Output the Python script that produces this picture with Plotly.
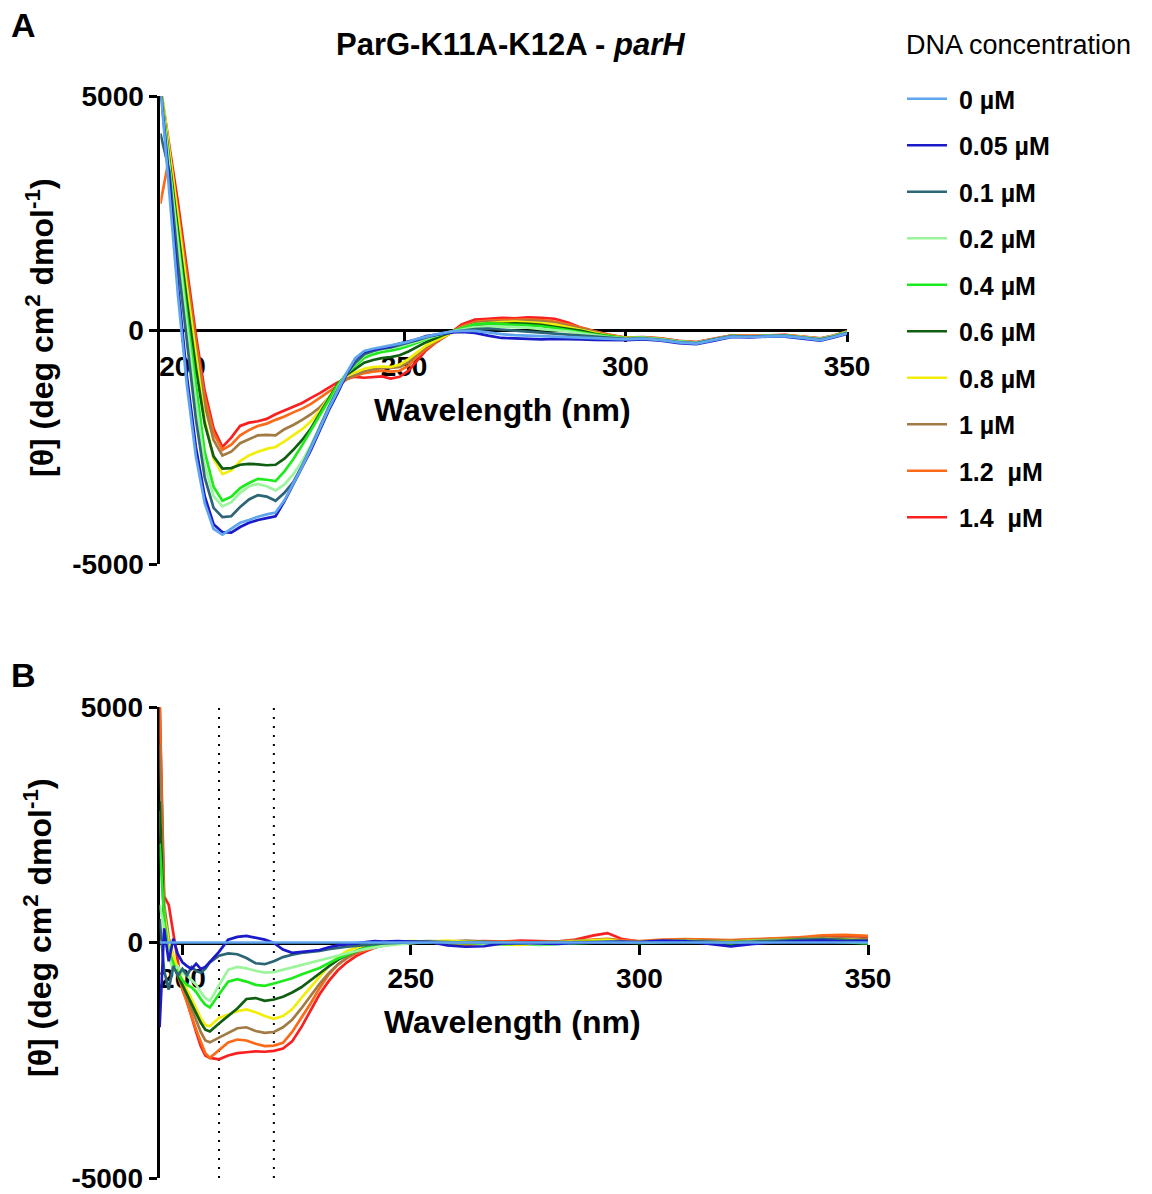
import plotly.graph_objects as go

# ---------------- data ----------------
CONC_LABELS = ["0 µM", "0.05 µM", "0.1 µM", "0.2 µM", "0.4 µM", "0.6 µM",
               "0.8 µM", "1 µM", "1.2\u00a0 µM", "1.4\u00a0 µM"]
COLORS = ["#5fa6ef", "#1a1ac8", "#2c6576", "#9cf49c", "#1eea1e", "#0f5e12",
          "#f2ee0a", "#a27a44", "#fb6a18", "#f82020"]

# Panel A: raw CD spectra
WL_A = [195, 197, 199, 201, 203, 205, 207, 209, 211, 213, 215, 217, 219, 221, 223,
        225, 227, 229, 231, 233, 235, 237, 239,
        241, 243, 245, 247, 249, 251, 253, 255, 257, 259, 261, 263,
        266, 269, 272, 275, 278, 281, 284, 287, 290, 293, 296,
        300, 304, 308, 312, 316, 320, 324, 328, 332, 336, 340, 344, 347, 350]

A_0 = [5200, 3000, 700, -1200, -2700, -3700, -4250, -4370, -4250, -4120, -4060, -3990, -3940, -3900, -3640,
       -3280, -2920, -2520, -2080, -1680, -1300, -920, -600,
       -450, -400, -370, -330, -290, -250, -190, -140, -100, -60, -30, -20,
       -20, -50, -90, -110, -120, -130, -140, -150, -160, -170, -180,
       -200, -185, -215, -265, -290, -210, -140, -150, -135, -130, -170, -215, -150, -70]
A_005 = [5200, 3200, 900, -1000, -2500, -3550, -4150, -4320, -4330, -4210, -4120, -4060, -4020, -3980, -3660,
         -3300, -2950, -2560, -2140, -1720, -1350, -950, -620,
         -470, -420, -380, -350, -290, -250, -200, -130, -100, -70, -50, -40,
         -60, -120, -170, -180, -190, -200, -190, -190, -200, -210, -215,
         -215, -200, -230, -280, -300, -230, -150, -160, -140, -140, -180, -225, -160, -80]
A_01 = [4200, 3400, 1400, -300, -1900, -3150, -3800, -4000, -3980, -3780, -3620, -3530, -3560, -3650, -3480,
        -3250, -2900, -2500, -2080, -1650, -1280, -940, -700,
        -520, -450, -400, -370, -320, -280, -220, -160, -110, -70, -40, -10,
        20, 30, 10, -10, -40, -60, -80, -100, -120, -140, -160,
        -190, -180, -210, -260, -280, -200, -130, -140, -130, -120, -160, -200, -140, -60]
A_02 = [5200, 3500, 1700, 100, -1500, -2900, -3550, -3770, -3680, -3480, -3340, -3290, -3340, -3430, -3300,
        -3080, -2800, -2460, -2060, -1640, -1250, -930, -720,
        -540, -460, -420, -390, -350, -300, -240, -180, -120, -70, -30, 10,
        60, 80, 70, 60, 50, 20, 0, -30, -70, -110, -150,
        -180, -170, -200, -250, -270, -200, -130, -140, -120, -120, -150, -190, -130, -50]
A_04 = [5200, 3500, 1900, 300, -1200, -2600, -3350, -3650, -3560, -3380, -3270, -3180, -3200, -3230, -3020,
        -2760, -2460, -2140, -1800, -1480, -1180, -930, -760,
        -600, -520, -470, -440, -400, -340, -270, -200, -130, -80, -20, 40,
        120, 140, 120, 110, 100, 80, 40, 0, -50, -100, -140,
        -180, -170, -200, -250, -280, -210, -130, -140, -130, -120, -160, -200, -130, -40]
A_06 = [5200, 3600, 2100, 600, -800, -2000, -2700, -2960, -2950, -2880, -2860, -2870, -2890, -2880, -2750,
        -2560, -2350, -2100, -1800, -1470, -1160, -960, -830,
        -700, -640, -600, -580, -540, -460, -360, -260, -180, -100, -40, 30,
        100, 130, 130, 140, 130, 110, 70, 30, -20, -80, -130,
        -180, -170, -200, -250, -280, -200, -130, -140, -125, -120, -160, -200, -140, -50]
A_08 = [5300, 3900, 2400, 900, -500, -1900, -2750, -3080, -3000, -2800, -2680, -2600, -2540, -2500, -2380,
        -2250, -2120, -1950, -1720, -1450, -1170, -980, -900,
        -830, -790, -780, -790, -740, -620, -470, -330, -230, -140, -50, 40,
        120, 150, 170, 180, 170, 150, 120, 60, 10, -60, -120,
        -170, -165, -195, -245, -275, -200, -125, -135, -120, -115, -150, -195, -135, -45]
A_1 = [5200, 3800, 2400, 1000, -350, -1600, -2350, -2680, -2600, -2420, -2330, -2250, -2240, -2250, -2120,
       -2030, -1920, -1800, -1650, -1450, -1220, -1040, -960,
       -880, -840, -810, -810, -790, -690, -510, -360, -250, -140, -40, 60,
       150, 180, 190, 200, 200, 190, 150, 90, 30, -40, -110,
       -170, -160, -190, -240, -270, -195, -125, -135, -120, -115, -150, -190, -130, -40]
A_12 = [2700, 3700, 2500, 1100, -250, -1450, -2200, -2560, -2450, -2250, -2140, -2050, -2000, -1920, -1850,
        -1760, -1680, -1580, -1450, -1310, -1180, -1060, -980,
        -920, -890, -870, -890, -870, -760, -560, -400, -270, -150, -40, 80,
        170, 200, 210, 220, 230, 210, 180, 120, 40, -30, -100,
        -165, -155, -185, -235, -265, -190, -120, -130, -115, -110, -145, -185, -125, -35]
A_14 = [5200, 4000, 2700, 1300, -100, -1300, -2100, -2500, -2300, -2050, -1980, -1950, -1900, -1800, -1720,
        -1630, -1560, -1450, -1350, -1230, -1120, -1040, -1000,
        -1020, -1000, -990, -1040, -1000, -870, -650, -430, -280, -150, -30, 120,
        220, 240, 260, 250, 270, 260, 240, 160, 50, -30, -100,
        -160, -150, -180, -230, -260, -185, -115, -125, -110, -105, -140, -180, -120, -30]

# Panel B: spectra after subtraction of the 0 µM spectrum
WL_B = [195, 196, 197, 198, 199, 200, 201, 202, 203, 204, 205, 206,
        208, 210, 212, 214, 216, 218, 220, 222, 224, 226, 228, 230, 232, 234, 236, 238, 240, 242, 244,
        247, 250, 254, 258, 262, 266, 270, 274, 278, 282, 286, 290, 293, 296,
        300, 305, 310, 315, 320, 325, 330, 335, 340, 345, 350]

B_0 = [0, 0, 0, 0, 0, 0, 0, 0, 0, 0, 0, 0,
       0, 0, 0, 0, 0, 0, 0, 0, 0, 0, 0, 0, 0, 0, 0, 0, 0, 0, 0,
       0, 0, 0, 0, 0, 0, 0, 0, 0, 0, 0, 0, 0, 0,
       0, 0, 0, 0, 0, 0, 0, 0, 0, 0, 0]
B_005 = [-1800, 300, -400, 80, -250, -420, -500, -560, -450, -560, -520, -420,
         -200, 60, 120, 140, 100, 60, -10, -150, -220, -200, -180, -160, -100, -60, -40, -20, 0, 30, 20,
         30, 20, 10, -60, -90, -80, -20, -10, -20, -30, -10, 0, 10, 20,
         10, 40, 30, -20, -80, -30, 10, 30, 40, 20, 30]
B_01 = [500, -600, -1000, -500, -700, -560, -700, -520, -600, -640, -560, -420,
        -280, -230, -250, -330, -440, -460, -400, -310, -260, -220, -200, -180, -140, -110, -90, -70, -50, -30, -20,
        -10, 10, 20, 10, 0, 10, -20, -10, 0, -20, 10, 0, 10, 0,
        10, 20, 30, 20, 0, 20, 40, 60, 70, 50, 40]
B_02 = [800, 300, -300, -600, -500, -650, -700, -800, -900, -1050, -1180, -1240,
        -900, -580, -520, -550, -600, -640, -630, -580, -520, -470, -430, -380, -320, -280, -230, -180, -140, -100, -70,
        -40, -10, 20, 0, 10, -20, -30, -10, -40, -20, 0, 10, 20, 10,
        0, 20, 30, 10, 0, 30, 40, 50, 60, 40, 20]
B_04 = [2100, 500, -200, -450, -640, -800, -900, -950, -1050, -1200, -1320, -1380,
        -1100, -830, -780, -830, -900, -920, -870, -820, -760, -680, -610, -540, -440, -340, -260, -180, -120, -70, -40,
        -10, 10, 0, -20, -10, -30, -40, -20, -50, -30, -10, 0, 10, 0,
        -10, 10, 20, 0, -20, 20, 30, 40, 30, 10, -20]
B_06 = [3000, 400, -300, -500, -700, -900, -1100, -1300, -1500, -1700, -1850, -1890,
        -1720, -1550, -1400, -1200, -1180, -1240, -1210, -1150, -1060, -950, -800, -660, -510, -370, -260, -180, -110, -60, -30,
        -10, 20, 10, 0, 10, 0, -10, 0, -10, 0, 10, 20, 20, 10,
        0, 20, 30, 10, 10, 30, 50, 60, 70, 50, 30]
B_08 = [2800, 600, 0, -300, -550, -800, -1000, -1200, -1400, -1600, -1750, -1780,
        -1600, -1530, -1460, -1420, -1480, -1560, -1620, -1560, -1420, -1180, -950, -720, -500, -310, -180, -110, -60, -30, 0,
        20, 30, 20, 40, 20, 0, -40, -50, -20, 0, 20, 40, 60, 20,
        10, 30, 40, 20, 20, 40, 50, 60, 80, 60, 40]
B_1 = [4200, 800, 100, -300, -600, -900, -1150, -1400, -1650, -1900, -2080, -2120,
       -2020, -1920, -1820, -1800, -1880, -1920, -1900, -1800, -1640, -1400, -1130, -880, -650, -470, -320, -210, -130, -70, -30,
       0, 20, 30, 20, 40, 20, 0, -10, 10, 20, 30, 50, 70, 30,
       20, 40, 50, 40, 30, 50, 70, 80, 100, 90, 70]
B_12 = [5200, 300, -190, -400, -700, -1000, -1300, -1600, -1850, -2100, -2350, -2450,
        -2280, -2120, -2060, -2080, -2150, -2200, -2190, -2130, -1900, -1600, -1300, -970, -680, -470, -330, -230, -160, -100, -60,
        -20, 0, 10, -40, -60, 0, 20, 10, 0, 20, 40, 60, 80, 50,
        30, 60, 70, 60, 50, 70, 90, 110, 150, 160, 140]
B_14 = [5200, 980, 800, 230, -400, -1000, -1250, -1600, -1900, -2200, -2400, -2450,
        -2480, -2400, -2350, -2330, -2310, -2320, -2300, -2250, -2100, -1800, -1460, -1100, -820, -590, -420, -290, -190, -110, -60,
        -20, 10, 20, 0, 10, 30, 20, 40, 30, 20, 60, 150, 200, 80,
        20, 40, 60, 50, 40, 60, 80, 100, 130, 140, 120]

SERIES_A = [A_0, A_005, A_01, A_02, A_04, A_06, A_08, A_1, A_12, A_14]
SERIES_B = [B_0, B_005, B_01, B_02, B_04, B_06, B_08, B_1, B_12, B_14]

Y_TICKS = [-5000, 0, 5000]
Y_TICKTEXT = ["-5000", "0", "5000"]
X_TICKS = [200, 250, 300, 350]
MARKER_LINES_B = [208, 220]

# ---------------- figure ----------------
W, H = 1152, 1194
FONT = "Liberation Sans, Arial, sans-serif"


def px_x(p):
    return p / W


def px_y(p):
    return 1 - p / H


fig = go.Figure()

# draw highest concentration first so the low-concentration curves sit on top
for i in reversed(range(len(CONC_LABELS))):
    fig.add_trace(go.Scatter(
        x=WL_A, y=SERIES_A[i], mode="lines", name="\u00a0" + CONC_LABELS[i],
        line=dict(color=COLORS[i], width=2.7),
        legendgroup=f"g{i}", legendrank=i + 1, showlegend=True,
        xaxis="x", yaxis="y"))
for i in reversed(range(len(CONC_LABELS))):
    fig.add_trace(go.Scatter(
        x=WL_B, y=SERIES_B[i], mode="lines", name=CONC_LABELS[i],
        line=dict(color=COLORS[i], width=2.7),
        legendgroup=f"g{i}", showlegend=False,
        xaxis="x2", yaxis="y2"))

tickfont = dict(family=FONT, size=28, color="black", weight="bold")

xa_common = dict(
    range=[195, 350], tickvals=X_TICKS, ticks="outside", ticklen=10, tickwidth=3,
    tickcolor="black", showline=True, linewidth=3, linecolor="black",
    showgrid=False, zeroline=False, tickfont=tickfont, anchor="free",
    layer="below traces", ticklabelstandoff=0)
ya_common = dict(
    range=[-5000, 5000], tickvals=Y_TICKS, ticktext=Y_TICKTEXT, ticks="outside",
    ticklen=8, tickwidth=3, tickcolor="black", showline=True, linewidth=3,
    linecolor="black", showgrid=False, zeroline=False, tickfont=tickfont,
    layer="below traces", ticklabelstandoff=0)

A_x0, A_x1, A_y0, A_y1 = 160.4, 847, 96, 564
B_x0, B_x1, B_y0, B_y1 = 159.6, 868, 707, 1178

fig.update_layout(
    xaxis=dict(domain=[px_x(A_x0), px_x(A_x1)], position=(px_y(A_y0) + px_y(A_y1)) / 2, **xa_common),
    yaxis=dict(domain=[px_y(A_y1), px_y(A_y0)], anchor="x", **ya_common),
    xaxis2=dict(domain=[px_x(B_x0), px_x(B_x1)], position=(px_y(B_y0) + px_y(B_y1)) / 2, **xa_common),
    yaxis2=dict(domain=[px_y(B_y1), px_y(B_y0)], anchor="x2", **ya_common),
)

# reference wavelengths in panel B
for wl in MARKER_LINES_B:
    fig.add_shape(type="line", xref="x2", yref="y2", x0=wl, x1=wl, y0=-5000, y1=5000,
                  line=dict(color="black", width=2, dash="2px,7px"), layer="below")

title_font = dict(family=FONT, size=32, color="black", weight="bold")
ytitle_font = dict(family=FONT, size=32, color="black", weight="bold")
ytitle = "[θ] (deg cm<sup>2</sup> dmol<sup>-1</sup>)"
annotations = [
    dict(text="A", x=px_x(23), y=px_y(25), font=dict(family=FONT, size=34, color="black", weight="bold")),
    dict(text="B", x=px_x(23), y=px_y(675), font=dict(family=FONT, size=34, color="black", weight="bold")),
    dict(text="ParG-K11A-K12A - <i>parH</i>", x=px_x(510), y=px_y(45),
         font=dict(family=FONT, size=31, color="black", weight="bold")),
    dict(text="Wavelength (nm)", x=px_x(502), y=px_y(410), font=title_font),
    dict(text="Wavelength (nm)", x=px_x(512), y=px_y(1022), font=title_font),
    dict(text=ytitle, x=px_x(40), y=px_y(328), textangle=-90, font=ytitle_font),
    dict(text=ytitle, x=px_x(38), y=px_y(928), textangle=-90, font=ytitle_font),
    dict(text="DNA concentration", x=px_x(904), y=px_y(45), xanchor="left",
         font=dict(family=FONT, size=27, color="black")),
]
for a in annotations:
    a.setdefault("xanchor", "center")
    a.update(xref="paper", yref="paper", showarrow=False, yanchor="middle")

fig.update_layout(
    width=W, height=H, autosize=False,
    margin=dict(l=0, r=0, t=0, b=0, autoexpand=False),
    paper_bgcolor="white", plot_bgcolor="white",
    annotations=annotations,
    legend=dict(
        x=px_x(902), y=px_y(76), xanchor="left", yanchor="top",
        font=dict(family=FONT, size=25, color="black", weight="bold"),
        itemwidth=40, tracegroupgap=11, bgcolor="rgba(0,0,0,0)",
    ),
)

fig.write_html("out.html")
